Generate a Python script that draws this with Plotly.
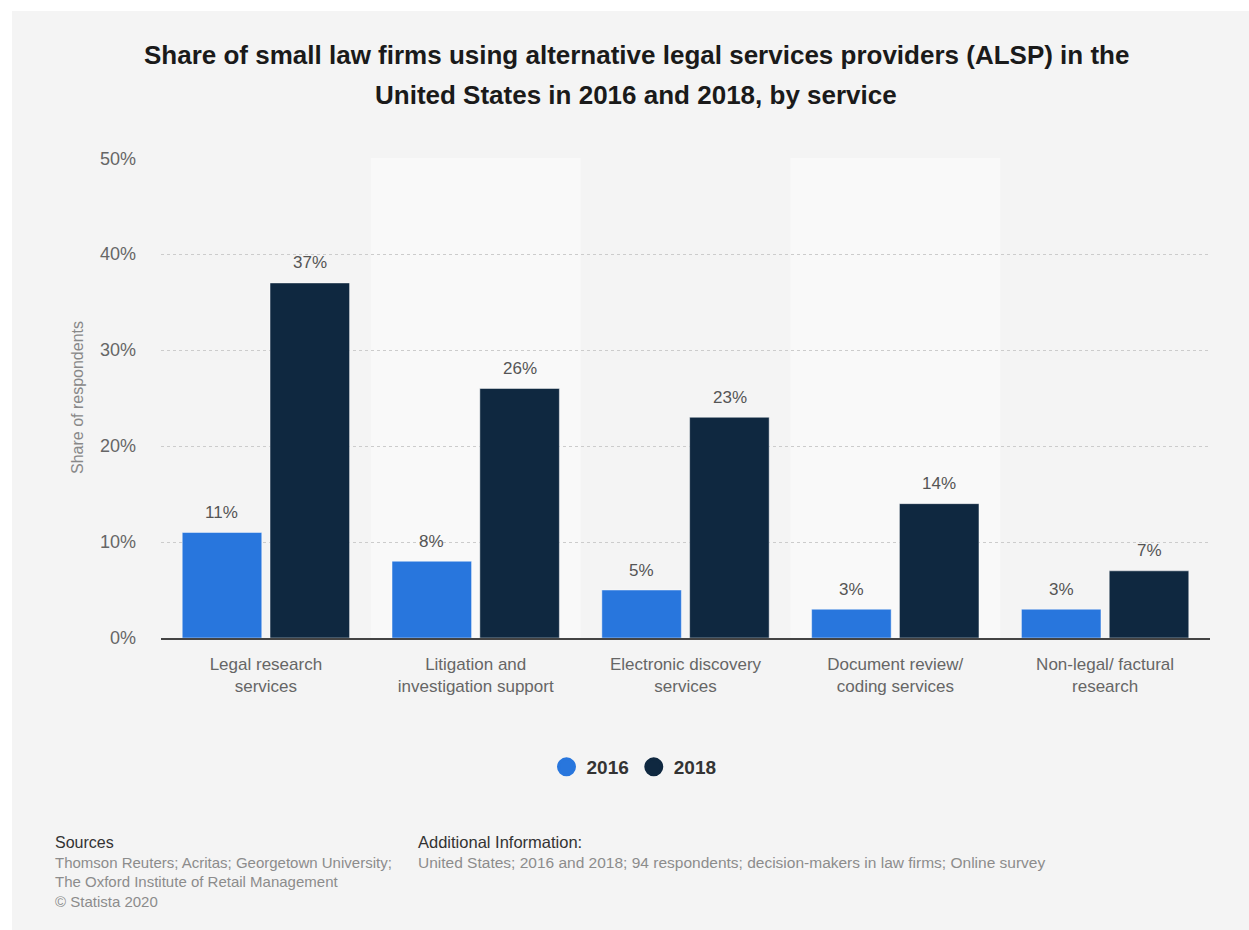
import plotly.graph_objects as go

categories = ["Legal research<br>services", "Litigation and<br>investigation support",
              "Electronic discovery<br>services", "Document review/<br>coding services",
              "Non-legal/ factural<br>research"]
values_2016 = [11, 8, 5, 3, 3]
values_2018 = [37, 26, 23, 14, 7]
series_names = ["2016", "2018"]
colors = ["#2876dd", "#0f2840"]
y_ticks = [0, 10, 20, 30, 40, 50]
y_tick_labels = ["0%", "10%", "20%", "30%", "40%", "50%"]

W, H = 1249, 930
L, R, T, B = 161, 1210, 158, 638  # plot area pixels (page coords)


def px(x):
    return (x - L) / (R - L)


def py(y):
    return (B - y) / (B - T)


FONT = "Liberation Sans, Arial, sans-serif"

fig = go.Figure()
for name, vals, col in zip(series_names, [values_2016, values_2018], colors):
    fig.add_trace(go.Bar(
        x=categories, y=vals, name=name,
        marker=dict(color=col, line=dict(width=1, color="rgba(255,255,255,0.45)")),
        showlegend=False, hoverinfo="x+y",
    ))
    fig.add_trace(go.Scatter(
        x=[None], y=[None], mode="markers", name=name,
        marker=dict(symbol="circle", size=16, color=col, line=dict(width=3, color=col)),
        showlegend=True,
    ))

# value labels above bars
slot_half = 44  # px offset of each bar in the group
annotations = []
for vals, shift in zip([values_2016, values_2018], [-slot_half, slot_half]):
    for c, v in zip(categories, vals):
        annotations.append(dict(x=c, y=v, xref="x", yref="y", text=f"{v}%",
                                showarrow=False, xshift=shift, yshift=20,
                                xanchor="center", yanchor="middle",
                                font=dict(size=17, color="#555555", family=FONT)))

shapes = []
# white outer margins (top and left)
shapes.append(dict(type="rect", xref="paper", yref="paper",
                   x0=px(0), x1=px(W), y0=py(0), y1=py(11),
                   fillcolor="white", line=dict(width=0), layer="below"))
shapes.append(dict(type="rect", xref="paper", yref="paper",
                   x0=px(0), x1=px(12), y0=py(0), y1=py(H),
                   fillcolor="white", line=dict(width=0), layer="below"))
# alternating bands
for i in [1, 3]:
    shapes.append(dict(type="rect", xref="x", yref="paper",
                       x0=i - 0.5, x1=i + 0.5, y0=0, y1=1,
                       fillcolor="#f9f9f9", line=dict(width=0), layer="below"))

annotations += [
    dict(text="<b>Share of small law firms using alternative legal services providers (ALSP) in the</b>",
         x=px(636), y=py(55), xref="paper", yref="paper", showarrow=False,
         xanchor="center", yanchor="middle", font=dict(size=26, color="#1a1a1a", family=FONT)),
    dict(text="<b>United States in 2016 and 2018, by service</b>",
         x=px(636), y=py(95), xref="paper", yref="paper", showarrow=False,
         xanchor="center", yanchor="middle", font=dict(size=26, color="#1a1a1a", family=FONT)),
    dict(text="Share of respondents", x=px(77), y=0.5, xref="paper", yref="paper",
         showarrow=False, textangle=-90, xanchor="center", yanchor="middle",
         font=dict(size=16, color="#888888", family=FONT)),
    dict(text="Sources", x=px(53), y=py(842), xref="paper", yref="paper", showarrow=False,
         xanchor="left", yanchor="middle", font=dict(size=16, color="#333333", family=FONT)),
    dict(text="Thomson Reuters; Acritas; Georgetown University;", x=px(53), y=py(862),
         xref="paper", yref="paper", showarrow=False, xanchor="left", yanchor="middle",
         font=dict(size=15, color="#8c8c8c", family=FONT)),
    dict(text="The Oxford Institute of Retail Management", x=px(53), y=py(881),
         xref="paper", yref="paper", showarrow=False, xanchor="left", yanchor="middle",
         font=dict(size=15, color="#8c8c8c", family=FONT)),
    dict(text="© Statista 2020", x=px(53), y=py(901),
         xref="paper", yref="paper", showarrow=False, xanchor="left", yanchor="middle",
         font=dict(size=15, color="#8c8c8c", family=FONT)),
    dict(text="Additional Information:", x=px(416), y=py(842), xref="paper", yref="paper",
         showarrow=False, xanchor="left", yanchor="middle",
         font=dict(size=16.5, color="#333333", family=FONT)),
    dict(text="United States; 2016 and 2018; 94 respondents; decision-makers in law firms; Online survey",
         x=px(416), y=py(862), xref="paper", yref="paper", showarrow=False,
         xanchor="left", yanchor="middle", font=dict(size=15.5, color="#8c8c8c", family=FONT)),
]

fig.update_layout(
    width=W, height=H,
    margin=dict(l=L, r=W - R, t=T, b=H - B, pad=0),
    paper_bgcolor="#f4f4f4", plot_bgcolor="rgba(0,0,0,0)",
    barmode="group", bargap=0.163, bargroupgap=0.094,
    font=dict(family=FONT),
    shapes=shapes, annotations=annotations,
    legend=dict(orientation="h", x=px(634), y=py(767), xanchor="center", yanchor="middle",
                font=dict(size=19, color="#333333", family=FONT, weight="bold"),
                bgcolor="rgba(0,0,0,0)", itemsizing="trace"),
    showlegend=True,
)
fig.update_yaxes(range=[0, 50.02], tickvals=y_ticks, ticktext=y_tick_labels,
                 showgrid=True, gridcolor="#cccccc", griddash="dot", gridwidth=1,
                 zeroline=False, showline=False, ticks="", ticklabelstandoff=24,
                 tickfont=dict(size=18, color="#666666", family=FONT))
fig.update_xaxes(showline=True, linecolor="#444444", linewidth=1.5, showgrid=False,
                 ticks="", ticklabelstandoff=10,
                 tickfont=dict(size=17, color="#666666", family=FONT))

fig.write_html("out.html", config={"displayModeBar": False},
               post_script="document.documentElement.style.margin='0px';"
                           "document.body.style.margin='0px';"
                           "document.body.style.overflow='hidden';")
